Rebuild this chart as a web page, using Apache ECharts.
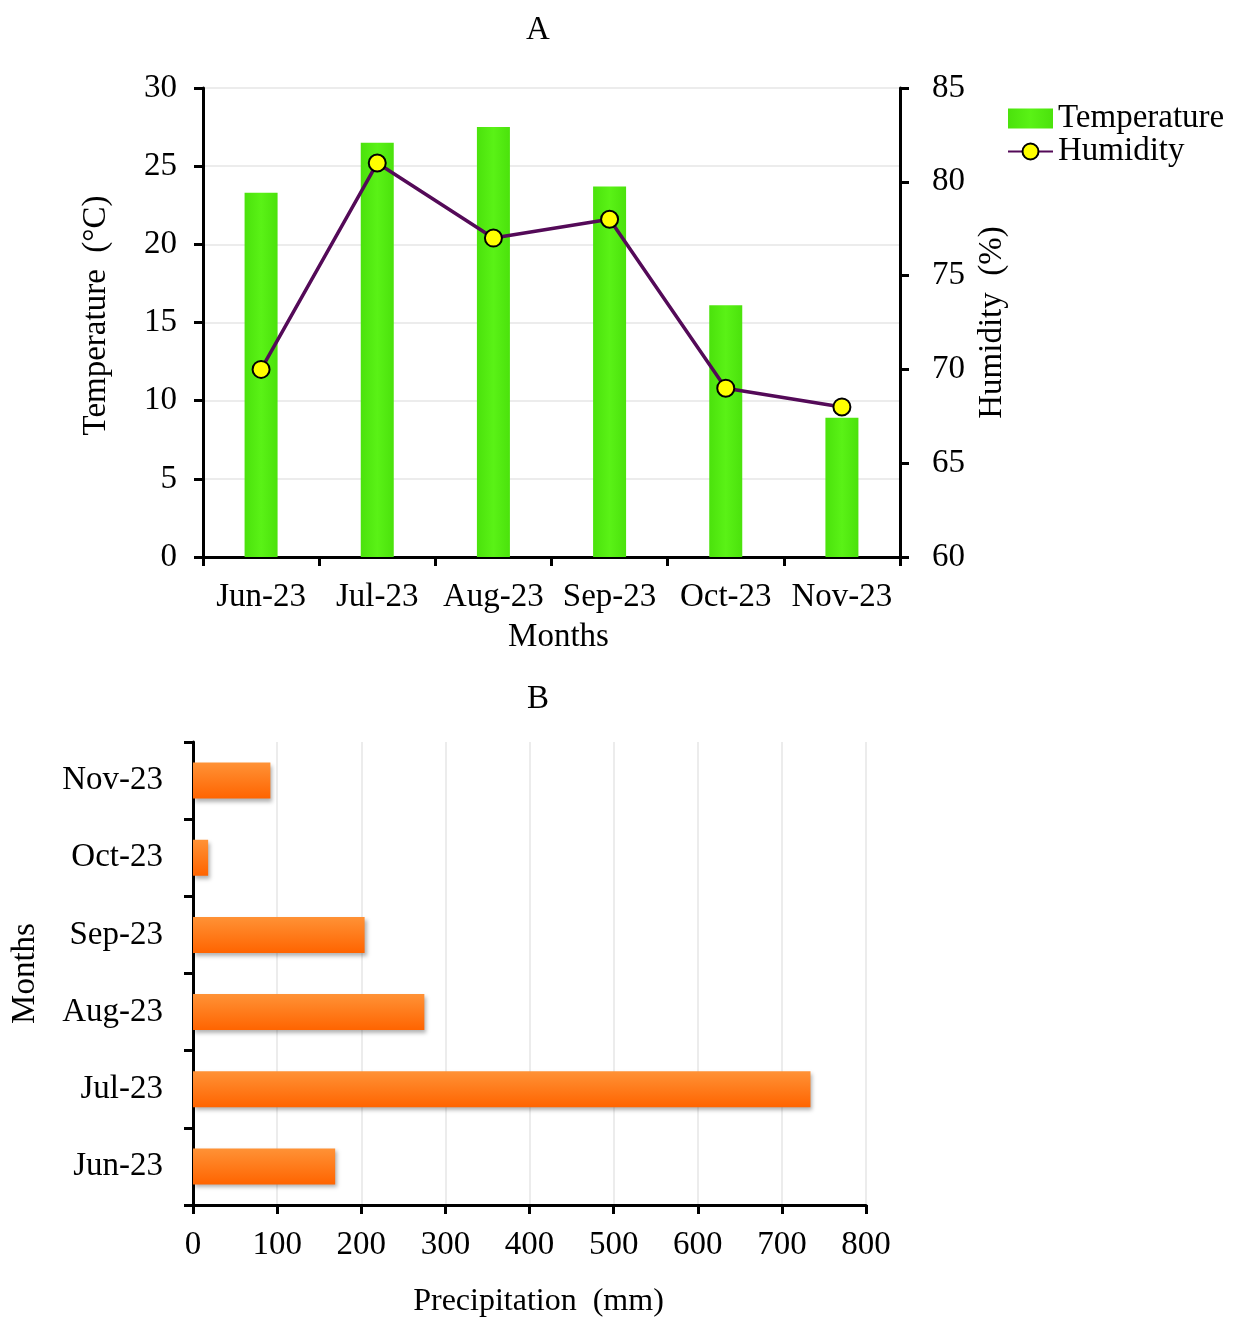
<!DOCTYPE html>
<html>
<head>
<meta charset="utf-8">
<script src="https://cdn.jsdelivr.net/npm/echarts@6/dist/echarts.min.js"></script>
<style>
html,body{margin:0;padding:0;background:#fff;}
#c{width:1239px;height:1338px;}
</style>
</head>
<body>
<div id="c"></div>
<script>
// ---- Data ----
const months = ['Jun-23', 'Jul-23', 'Aug-23', 'Sep-23', 'Oct-23', 'Nov-23'];
const temperature = [23.3, 26.5, 27.5, 23.7, 16.1, 8.9];
const humidity = [70, 81, 77, 78, 69, 68];
const precipitation = [169, 734, 275, 204, 18, 92];
const tempTicks = { min: 0, max: 30, interval: 5 };
const humTicks = { min: 60, max: 85, interval: 5 };
const precTicks = { min: 0, max: 800, interval: 100 };

const FONT = '"Liberation Serif", "Times New Roman", serif';
const FS = 33;
const black = '#000';
const axisLine = { show: true, lineStyle: { color: black, width: 3 } };
const axisTickOut = { show: true, inside: false, length: 9, lineStyle: { color: black, width: 3 } };
const labelStyle = { color: black, fontFamily: FONT, fontSize: FS };
const nameStyle = { color: black, fontFamily: FONT, fontSize: FS };
const gridLine = { show: true, lineStyle: { color: '#e6e6e6', width: 1.5 } };

const chart = echarts.init(document.getElementById('c'), null, { renderer: 'canvas' });

const option = {
  backgroundColor: '#fff',
  animation: false,
  title: [
    { text: 'A', left: 533, top: 9, textAlign: 'center', textStyle: { fontFamily: FONT, fontSize: FS, fontWeight: 'normal', color: black } },
    { text: 'B', left: 533, top: 678, textAlign: 'center', textStyle: { fontFamily: FONT, fontSize: FS, fontWeight: 'normal', color: black } }
  ],
  legend: {
    orient: 'vertical',
    left: 1002,
    top: 97,
    itemWidth: 45,
    itemHeight: 20,
    itemGap: 0,
    textStyle: { fontFamily: FONT, fontSize: FS, color: black, padding: [0, 0, 0, 0] },
    data: [
      { name: 'Temperature', icon: 'rect' },
      { name: 'Humidity' }
    ]
  },
  grid: [
    { left: 203, right: 339, top: 88, height: 469, containLabel: false },
    { left: 193, right: 373, top: 742, height: 463, containLabel: false }
  ],
  xAxis: [
    {
      gridIndex: 0, type: 'category', data: months,
      axisLine: axisLine, axisTick: axisTickOut,
      axisLabel: Object.assign({ margin: 24, interval: 0 }, labelStyle),
      splitLine: { show: false },
      name: 'Months', nameLocation: 'middle', nameGap: 64,
      nameTextStyle: Object.assign({ padding: [0, 0, 0, 14] }, nameStyle)
    },
    {
      gridIndex: 1, type: 'value', min: precTicks.min, max: precTicks.max, interval: precTicks.interval,
      axisLine: axisLine, axisTick: axisTickOut,
      axisLabel: Object.assign({ margin: 24 }, labelStyle),
      splitLine: gridLine,
      name: 'Precipitation  (mm)', nameLocation: 'middle', nameGap: 81,
      nameTextStyle: Object.assign({ padding: [0, 0, 0, 18] }, nameStyle, { fontSize: 32 })
    }
  ],
  yAxis: [
    {
      gridIndex: 0, type: 'value', position: 'left', min: tempTicks.min, max: tempTicks.max, interval: tempTicks.interval,
      axisLine: axisLine, axisTick: axisTickOut,
      axisLabel: Object.assign({ margin: 26 }, labelStyle),
      splitLine: gridLine,
      name: 'Temperature  (°C)', nameLocation: 'middle', nameRotate: 90, nameGap: 90,
      nameTextStyle: Object.assign({ padding: [0, 0, 0, 14] }, nameStyle)
    },
    {
      gridIndex: 0, type: 'value', position: 'right', min: humTicks.min, max: humTicks.max, interval: humTicks.interval,
      axisLine: axisLine, axisTick: axisTickOut,
      axisLabel: Object.assign({ margin: 32 }, labelStyle),
      splitLine: { show: false },
      name: 'Humidity  (%)', nameLocation: 'middle', nameRotate: 90, nameGap: 74, nameTextStyle: nameStyle
    },
    {
      gridIndex: 1, type: 'category', data: months,
      axisLine: axisLine, axisTick: axisTickOut,
      axisLabel: Object.assign({ margin: 30, interval: 0 }, labelStyle),
      splitLine: { show: false },
      name: 'Months', nameLocation: 'middle', nameRotate: 90, nameGap: 151, nameTextStyle: nameStyle
    }
  ],
  series: [
    {
      name: 'Temperature', type: 'bar', xAxisIndex: 0, yAxisIndex: 0, data: temperature,
      barWidth: 33,
      itemStyle: {
        color: new echarts.graphic.LinearGradient(0, 0, 1, 0, [
          { offset: 0, color: '#4be20c' },
          { offset: 0.5, color: '#5af216' },
          { offset: 1, color: '#4be20c' }
        ])
      },
      z: 2
    },
    {
      name: 'Humidity', type: 'line', xAxisIndex: 0, yAxisIndex: 1, data: humidity,
      symbol: 'circle', symbolSize: 17,
      lineStyle: { color: '#540a58', width: 3.5 },
      itemStyle: { color: '#ffff00', borderColor: '#000', borderWidth: 2 },
      z: 5
    },
    {
      name: 'Precipitation', type: 'bar', xAxisIndex: 1, yAxisIndex: 2, data: precipitation,
      barWidth: 36,
      itemStyle: {
        color: new echarts.graphic.LinearGradient(0, 0, 0, 1, [
          { offset: 0, color: '#ff9236' },
          { offset: 1, color: '#ff6400' }
        ]),
        shadowColor: 'rgba(0,0,0,0.3)', shadowBlur: 4, shadowOffsetX: 2, shadowOffsetY: 3
      },
      z: 2
    }
  ]
};
chart.setOption(option);
</script>
</body>
</html>
